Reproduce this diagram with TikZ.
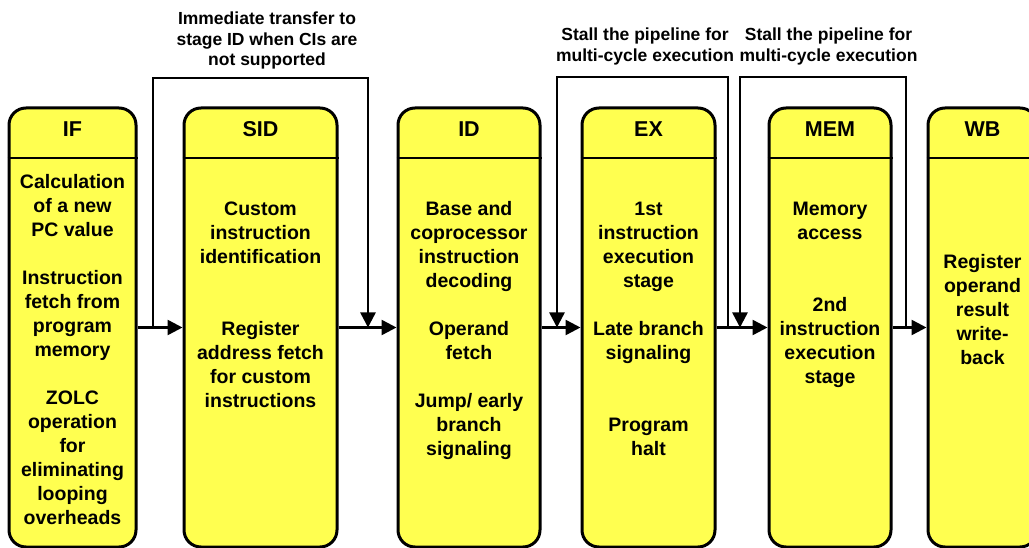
\documentclass[tikz,border=0pt]{standalone}
\usepackage{fontspec}
\setmainfont{Liberation Sans}
\usetikzlibrary{arrows.meta}
\definecolor{stagefill}{RGB}{255,255,80}
\tikzset{
  stage/.style={draw=black, line width=3pt, fill=stagefill, rounded corners=17pt,
    inner sep=0pt, minimum height=439pt},
  stagehead/.style={font=\fontsize{21.5}{24}\selectfont\bfseries, anchor=base, inner sep=0pt},
  % multi-line texts are placed by the baseline of their last line
  stagebody/.style={font=\fontsize{19.5}{24}\selectfont\bfseries, align=center, anchor=base, inner sep=0pt},
  note/.style={font=\fontsize{17.5}{20.8}\selectfont\bfseries, align=center, anchor=base, inner sep=0pt},
  conn/.style={line width=2.5pt, -{Triangle[length=15pt,width=15pt]}},
  divider/.style={line width=2.4pt},
}
% #1 name, #2 left edge, #3 right edge, #4 header text
\newcommand\pipestage[4]{%
  \node[stage, minimum width={#3-#2}] (#1) at ({(#2+#3)/2},327.5) {};
  \draw[divider] (#1.west |- 0,158) -- (#1.east |- 0,158);
  \node[stagehead] (#1head) at ({(#2+#3)/2},137) {#4};
}
\begin{document}
\begin{tikzpicture}[x=1pt,y=-1pt]
\useasboundingbox (0,0) rectangle (1029,548);
\clip (0,0) rectangle (1029,548);

% pipeline stages
\pipestage{IF}{9}{136}{IF}
\pipestage{SID}{184}{337}{SID}
\pipestage{ID}{398}{540}{ID}
\pipestage{EX}{582}{715}{EX}
\pipestage{MEM}{769}{891}{MEM}
\pipestage{WB}{928}{1037}{WB}

% stage descriptions
\node[stagebody] (IFbody) at (72.5,524) {Calculation\\of a new\\PC value\\[24pt]Instruction\\fetch from\\program\\memory\\[24pt]ZOLC\\operation\\for\\eliminating\\looping\\overheads};
\node[stagebody] (SIDbody) at (260.5,407) {Custom\\instruction\\identification\\[48pt]Register\\address fetch\\for custom\\instructions};
\node[stagebody] (IDbody) at (469,455) {Base and\\coprocessor\\instruction\\decoding\\[24pt]Operand\\fetch\\[24pt]Jump/ early\\branch\\signaling};
\node[stagebody] (EXbody) at (648.5,455) {1st\\instruction\\execution\\stage\\[24pt]Late branch\\signaling\\[48pt]Program\\halt};
\node[stagebody] (MEMbody) at (830,383) {Memory\\access\\[48pt]2nd\\instruction\\execution\\stage};
\node[stagebody] (WBbody) at (982.5,364) {Register\\operand\\result\\write-\\back};

% forward flow between stages
\draw[conn] (IF.east) -- (SID.west);
\draw[conn] (SID.east) -- (ID.west);
\draw[conn] (ID.east) -- (EX.west);
\draw[conn] (EX.east) -- (MEM.west);
\draw[conn] (MEM.east) -- (WB.west);

% bypass of SID and stall loops
\coordinate (bypassFrom) at (153,327.5);
\coordinate (bypassTo) at (368,327.5);
\coordinate (stallEXfrom) at (728,327.5);
\coordinate (stallEXto) at (557,327.5);
\coordinate (stallMEMfrom) at (906,327.5);
\coordinate (stallMEMto) at (740,327.5);
\draw[conn] (bypassFrom) |- (bypassTo |- 0,78) -- (bypassTo);
\draw[conn] (stallEXfrom) |- (stallEXto |- 0,77) -- (stallEXto);
\draw[conn] (stallMEMfrom) |- (stallMEMto |- 0,77) -- (stallMEMto);

% annotations
\node[note] (bypassNote) at (267,66) {Immediate transfer to\\stage ID when CIs are\\not supported};
\node[note] (stallEXnote) at (645,61.5) {Stall the pipeline for\\multi-cycle execution};
\node[note] (stallMEMnote) at (828.5,61.5) {Stall the pipeline for\\multi-cycle execution};
\end{tikzpicture}
\end{document}
